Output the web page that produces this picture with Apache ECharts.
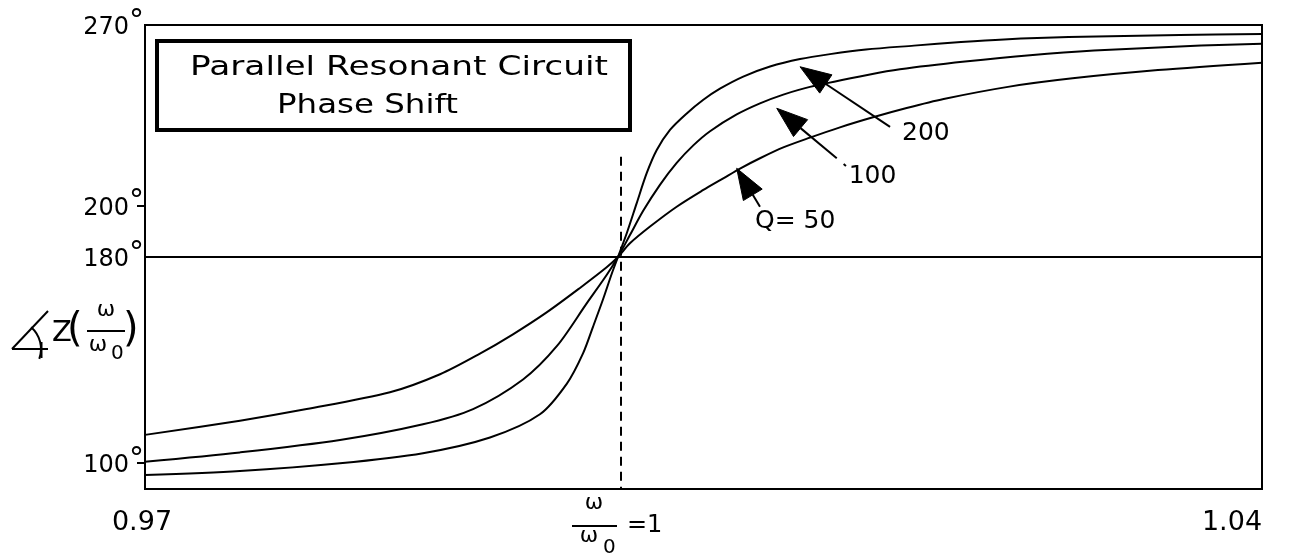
<!DOCTYPE html>
<html>
<head>
<meta charset="utf-8">
<script src="https://cdn.jsdelivr.net/npm/echarts@6/dist/echarts.min.js"></script>
<style>
html,body{margin:0;padding:0;background:#fff;}
#c{width:1300px;height:557px;}
</style>
</head>
<body>
<div id="c"></div>
<script>
// ---------------- data ----------------
const xLabelValues = [0.97, 1.04];
const yLabelValues = [100, 180, 200, 270];
const yTickValues = [100, 200];
const seriesNames = ['Q= 50', '100', '200'];

const q50 = [[0.97,111.0],[0.97595,116.5],[0.98013,121.0],[0.98535,127.5],[0.98849,134.5],[0.99099,142.5],[0.99306,150.0],[0.99517,158.5],[0.99726,168.0],[0.99893,176.0],[0.99964,180.0],[1.00039,185.3],[1.00165,191.8],[1.00332,199.5],[1.00499,206.0],[1.00624,210.5],[1.00729,214.3],[1.00854,218.3],[1.01000,222.5],[1.01167,226.3],[1.01355,230.3],[1.01562,234.2],[1.01773,237.8],[1.02005,241.3],[1.02408,246.0],[1.02813,249.3],[1.03348,252.5],[1.04,255.4]];

const q100 = [[0.97,100.6],[0.97595,104.2],[0.98222,109.0],[0.98742,115.1],[0.99056,121.0],[0.99369,132.5],[0.99582,145.5],[0.99768,162.0],[0.99893,173.0],[0.99964,180.0],[1.00039,188.5],[1.00123,198.0],[1.00227,208.0],[1.00332,216.5],[1.00436,223.3],[1.00541,228.8],[1.00708,235.3],[1.00854,239.6],[1.01000,243.0],[1.01167,246.0],[1.01543,250.8],[1.01731,252.8],[1.02139,255.8],[1.02546,258.3],[1.02947,260.1],[1.03618,262.0],[1.04,262.7]];

const q200 = [[0.97,95.4],[0.97595,97.0],[0.98222,100.0],[0.98742,103.9],[0.99162,110.0],[0.99475,119.0],[0.99645,131.0],[0.99745,142.6],[0.99808,153.0],[0.99870,163.5],[0.99925,173.5],[0.99964,180.0],[1.00019,189.2],[1.00081,200.8],[1.00144,212.5],[1.00207,221.5],[1.00290,229.3],[1.00395,235.7],[1.00499,241.0],[1.00603,245.3],[1.00749,250.0],[1.00917,253.9],[1.01105,256.8],[1.01293,258.7],[1.01518,260.5],[1.01819,262.0],[1.02114,263.4],[1.02383,264.4],[1.02788,265.3],[1.03486,266.1],[1.04,266.5]];

const referenceLevel = 180;
const resonanceX = 0.99983;
const resonanceTop = 218.9;

// arrow annotations in data coordinates
const arrowLabels = ['200', '100', 'Q= 50'];
const arrowTips = [[1.01105,253.8],[1.00959,237.7],[1.00708,214.4]];
const arrowTails = [[1.01669,230.5],[1.01335,218.3],[1.00854,199.5]];
const arrowLabelAt = [[1.01744,228.1],[1.01410,211.2],[1.00823,193.7]];

const titleLines = ['Parallel Resonant Circuit', 'Phase Shift'];

// ---------------- chart ----------------
const FONT = '"DejaVu Sans", sans-serif';
const GRID = {left:145, right:38, top:25, bottom:68};
const chart = echarts.init(document.getElementById('c'), null, {renderer:'canvas'});

const lineStyle = {color:'#000', width:2, join:'round'};
function mkSeries(name, data, extra) {
  return Object.assign({
    name: name, type:'line', data: data, symbol:'none', smooth:0.3,
    lineStyle: lineStyle, itemStyle:{color:'#000'}, silent:true, z:3
  }, extra || {});
}

chart.setOption({
  animation:false,
  backgroundColor:'#fff',
  grid:Object.assign({show:true, borderColor:'#000', borderWidth:2, backgroundColor:'transparent'}, GRID),
  xAxis:{
    type:'value', min:0.97, max:1.04,
    axisLine:{show:false}, axisTick:{show:false}, splitLine:{show:false},
    axisLabel:{
      customValues: xLabelValues, margin:20, color:'#000', fontFamily:FONT, fontSize:27,
      formatter: function(v){ return v > 1.02 ? '{r|' + v.toFixed(2) + '}' : '{c|' + v.toFixed(2) + '}'; },
      rich:{
        c:{fontSize:27, fontFamily:FONT, color:'#000', padding:[0,6,0,0]},
        r:{fontSize:27, fontFamily:FONT, color:'#000', padding:[0,60,0,0]}
      }
    }
  },
  yAxis:{
    type:'value', min:90, max:270,
    axisLine:{show:false}, splitLine:{show:false},
    axisTick:{show:true, customValues: yTickValues, length:8, lineStyle:{color:'#000', width:2}},
    axisLabel:{
      customValues: yLabelValues, margin:1, color:'#000',
      formatter: function(v){ return '{n|' + v + '}{d|°}'; },
      rich:{
        n:{fontSize:24, fontFamily:FONT, color:'#000', verticalAlign:'middle', padding:[6,0,0,0]},
        d:{fontSize:30, fontFamily:FONT, color:'#000', verticalAlign:'middle', padding:[0,0,6,0]}
      }
    }
  },
  series:[
    mkSeries(seriesNames[0], q50, {
      markLine:{
        silent:true, symbol:['none','none'], label:{show:false}, animation:false,
        data:[
          {yAxis: referenceLevel, lineStyle:{type:'solid', width:2, color:'#000'}},
          [{coord:[resonanceX, resonanceTop], lineStyle:{type:[9,6], width:2, color:'#000'}},
           {coord:[resonanceX, 90]}]
        ]
      }
    }),
    mkSeries(seriesNames[1], q100),
    mkSeries(seriesNames[2], q200)
  ]
});

// ---------------- annotations ----------------
const mcan = document.createElement('canvas').getContext('2d');
function measure(text, size) { mcan.font = size + 'px "DejaVu Sans"'; return mcan.measureText(text).width; }

function txt(text, x, y, size, align, extra) {
  return Object.assign({
    type:'text', x:x, y:y, silent:true, z:10,
    style:{text:text, fontSize:size, fontFamily:FONT, fill:'#000',
      align:align||'left', textAlign:align||'left', verticalAlign:'middle', textVerticalAlign:'middle'}
  }, extra || {});
}
function seg(x1,y1,x2,y2,w) {
  return {type:'line', silent:true, z:10, shape:{x1:x1,y1:y1,x2:x2,y2:y2}, style:{stroke:'#000', lineWidth:w||2}};
}

const g = [];
// title box
g.push({type:'rect', silent:true, z:10, shape:{x:157, y:41, width:473, height:89},
  style:{fill:'#fff', stroke:'#000', lineWidth:4}});
const tw1 = measure(titleLines[0], 27), tw2 = measure(titleLines[1], 27);
g.push(txt(titleLines[0], 190, 68, 27, 'left', {scaleX: 418 / tw1}));
g.push(txt(titleLines[1], 277, 106, 27, 'left', {scaleX: 181 / tw2}));

// arrows
for (let i = 0; i < arrowTips.length; i++) {
  const T = chart.convertToPixel({gridIndex:0}, arrowTips[i]);
  const S = chart.convertToPixel({gridIndex:0}, arrowTails[i]);
  const dx = T[0]-S[0], dy = T[1]-S[1], len = Math.sqrt(dx*dx+dy*dy);
  const ux = dx/len, uy = dy/len, nx = -uy, ny = ux;
  const L = 31, W = 22;
  const bx = T[0]-ux*L, by = T[1]-uy*L;
  g.push(seg(S[0], S[1], bx, by, 2));
  g.push({type:'polygon', silent:true, z:10,
    shape:{points:[[T[0],T[1]],[bx+nx*W/2, by+ny*W/2],[bx-nx*W/2, by-ny*W/2]]},
    style:{fill:'#000', stroke:'#000', lineWidth:1}});
  if (i === 1) {
    g.push(seg(S[0]+ux*-9, S[1]+uy*-9, S[0]+ux*-12, S[1]+uy*-12, 2));
  }
  const P = chart.convertToPixel({gridIndex:0}, arrowLabelAt[i]);
  g.push(txt(arrowLabels[i], P[0], P[1], 25, 'left'));
}

// x-axis centre label  ω/ω0 = 1
const C = chart.convertToPixel({gridIndex:0}, [resonanceX, 90]);
const cx = C[0] - 27;
g.push(txt('ω', cx, 503, 22, 'center'));
g.push(seg(cx-22, 526, cx+23, 526, 2));
g.push(txt('ω', cx-5, 536, 22, 'center'));
g.push(txt('0', cx+9, 548, 20, 'left'));
g.push(txt('=1', cx+33, 526, 24, 'left'));

// y-axis name: angle sign drawn as strokes, then Z(ω/ω0)
const vx = 12, vy = 349;
g.push(seg(vx, vy, 48, vy, 2));
g.push(seg(vx, vy, 48, 311, 2));
g.push({type:'arc', silent:true, z:10, shape:{cx:vx, cy:vy, r:29, startAngle:-Math.PI*0.27, endAngle:Math.PI*0.11},
  style:{stroke:'#000', lineWidth:2, fill:null}});
g.push(seg(41.5, 342, 41.5, 358, 2));
g.push(txt('Z', 52, 333, 29, 'left'));
g.push(txt('(', 67, 331, 40, 'left'));
g.push(txt('ω', 106, 310, 22, 'center'));
g.push(seg(87, 331, 125, 331, 2));
g.push(txt('ω', 98, 345, 22, 'center'));
g.push(txt('0', 111, 353.5, 20, 'left'));
g.push(txt(')', 123, 331, 40, 'left'));

chart.setOption({graphic:{elements:g}});
</script>
</body>
</html>
